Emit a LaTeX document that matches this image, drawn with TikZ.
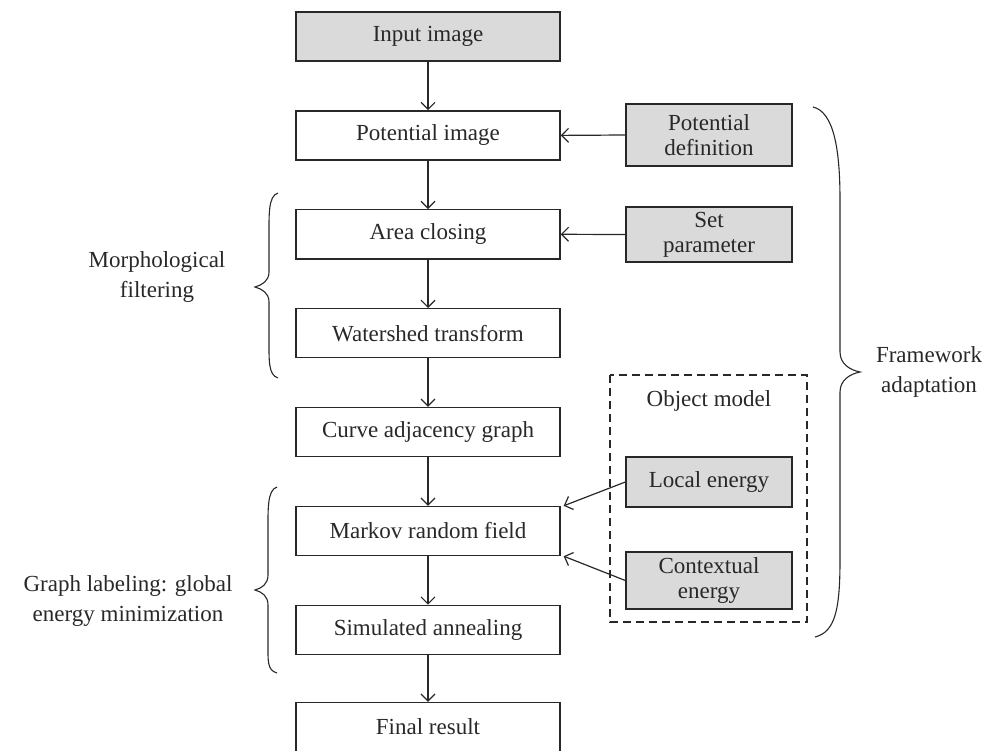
\documentclass[tikz,border=0pt]{standalone}
\usepackage{fontspec}
\setmainfont{Liberation Serif}
\usetikzlibrary{arrows.meta,calc}
\definecolor{boxgray}{RGB}{218,218,218}
\definecolor{ink}{RGB}{40,40,40}
\begin{document}
\begin{tikzpicture}[x=1pt,y=-1pt,
 mainbox/.style={draw=ink, line width=1.4pt, minimum width=264pt, minimum height=49pt, inner sep=0pt, text=ink, font=\fontsize{23}{25}\selectfont},
 graybox/.style={mainbox, fill=boxgray},
 sidebox/.style={draw=ink, line width=1.4pt, fill=boxgray, minimum width=166pt, inner sep=0pt, align=center, text=ink, font=\fontsize{23}{25}\selectfont},
 arr/.style={draw=ink, -{Straight Barb[length=7pt,width=14pt]}, line width=1.2pt},
 lbl/.style={align=center, text=ink, font=\fontsize{23}{30}\selectfont},
 bracestyle/.style={draw=ink, line width=1.1pt},
 dashbox/.style={draw=ink, line width=1.3pt, dash pattern=on 8pt off 5pt}]
\useasboundingbox (0,0) rectangle (995,751);

% main chain
\node[graybox] (input) at (428,36.5) {Input image};
\node[mainbox] (pimg) at (428,135.4) {Potential image};
\node[mainbox] (area) at (428,234.3) {Area closing};
\node[mainbox] (water) at (428,333.2) {Watershed transform};
\node[mainbox] (curve) at (428,432.1) {Curve adjacency graph};
\node[mainbox] (markov) at (428,531) {Markov random field};
\node[mainbox] (anneal) at (428,629.9) {Simulated annealing};
\node[mainbox] (final) at (428,727) {Final result};

% side boxes
\node[sidebox, minimum height=62pt] (pdef) at (709,135) {Potential\\definition};
\node[sidebox, minimum height=55pt] (setp) at (709,234.5) {Set\\parameter};
\node[sidebox, minimum height=50pt] (local) at (709,482) {Local energy};
\node[sidebox, minimum height=57pt] (ctx) at (709,580.5) {Contextual\\energy};

% dashed object model
\coordinate (dtl) at (610,375);
\coordinate (dbr) at (807,622);
\draw[dashbox] (dtl) rectangle (dbr);
\node[lbl] (objm) at (709,401) {Object model};

% arrows
\draw[arr] (input) -- (pimg);
\draw[arr] (pimg) -- (area);
\draw[arr] (area) -- (water);
\draw[arr] (water) -- (curve);
\draw[arr] (curve) -- (markov);
\draw[arr] (markov) -- (anneal);
\draw[arr] (anneal) -- (final);
\draw[arr] (pdef.west) -- (pimg.east);
\draw[arr] (setp.west) -- (area.east);
\draw[arr] (local.west) -- ($(markov.north east)+(3,0)$);
\draw[arr] (ctx.west) -- ($(markov.south east)+(3,0)$);

% braces
\draw[bracestyle] (278,193) .. controls (268,196) and (269,215) .. (269,240)
  -- (269,272) .. controls (269,281) and (262,285) .. (255,287)
  .. controls (262,289) and (269,293) .. (269,302)
  -- (269,335) .. controls (269,360) and (268,375) .. (278,378);
\node[lbl] (morph) at (157,277) {Morphological\\filtering};

\draw[bracestyle] (277,487) .. controls (267,490) and (268,510) .. (268,535)
  -- (268,575) .. controls (268,584) and (262,588) .. (255,590)
  .. controls (262,592) and (268,596) .. (268,605)
  -- (268,640) .. controls (268,662) and (267,670) .. (277,673);
\node[lbl] (graphl) at (128,601) {Graph labeling: global\\energy minimization};

\draw[bracestyle] (813,107) .. controls (834,112) and (840,150) .. (840,200)
  -- (840,352) .. controls (840,364) and (850,370) .. (860,372)
  .. controls (850,374) and (840,380) .. (840,392)
  -- (840,560) .. controls (840,610) and (835,632) .. (815,637);
\node[lbl] (frame) at (929,372) {Framework\\adaptation};
\end{tikzpicture}
\end{document}
